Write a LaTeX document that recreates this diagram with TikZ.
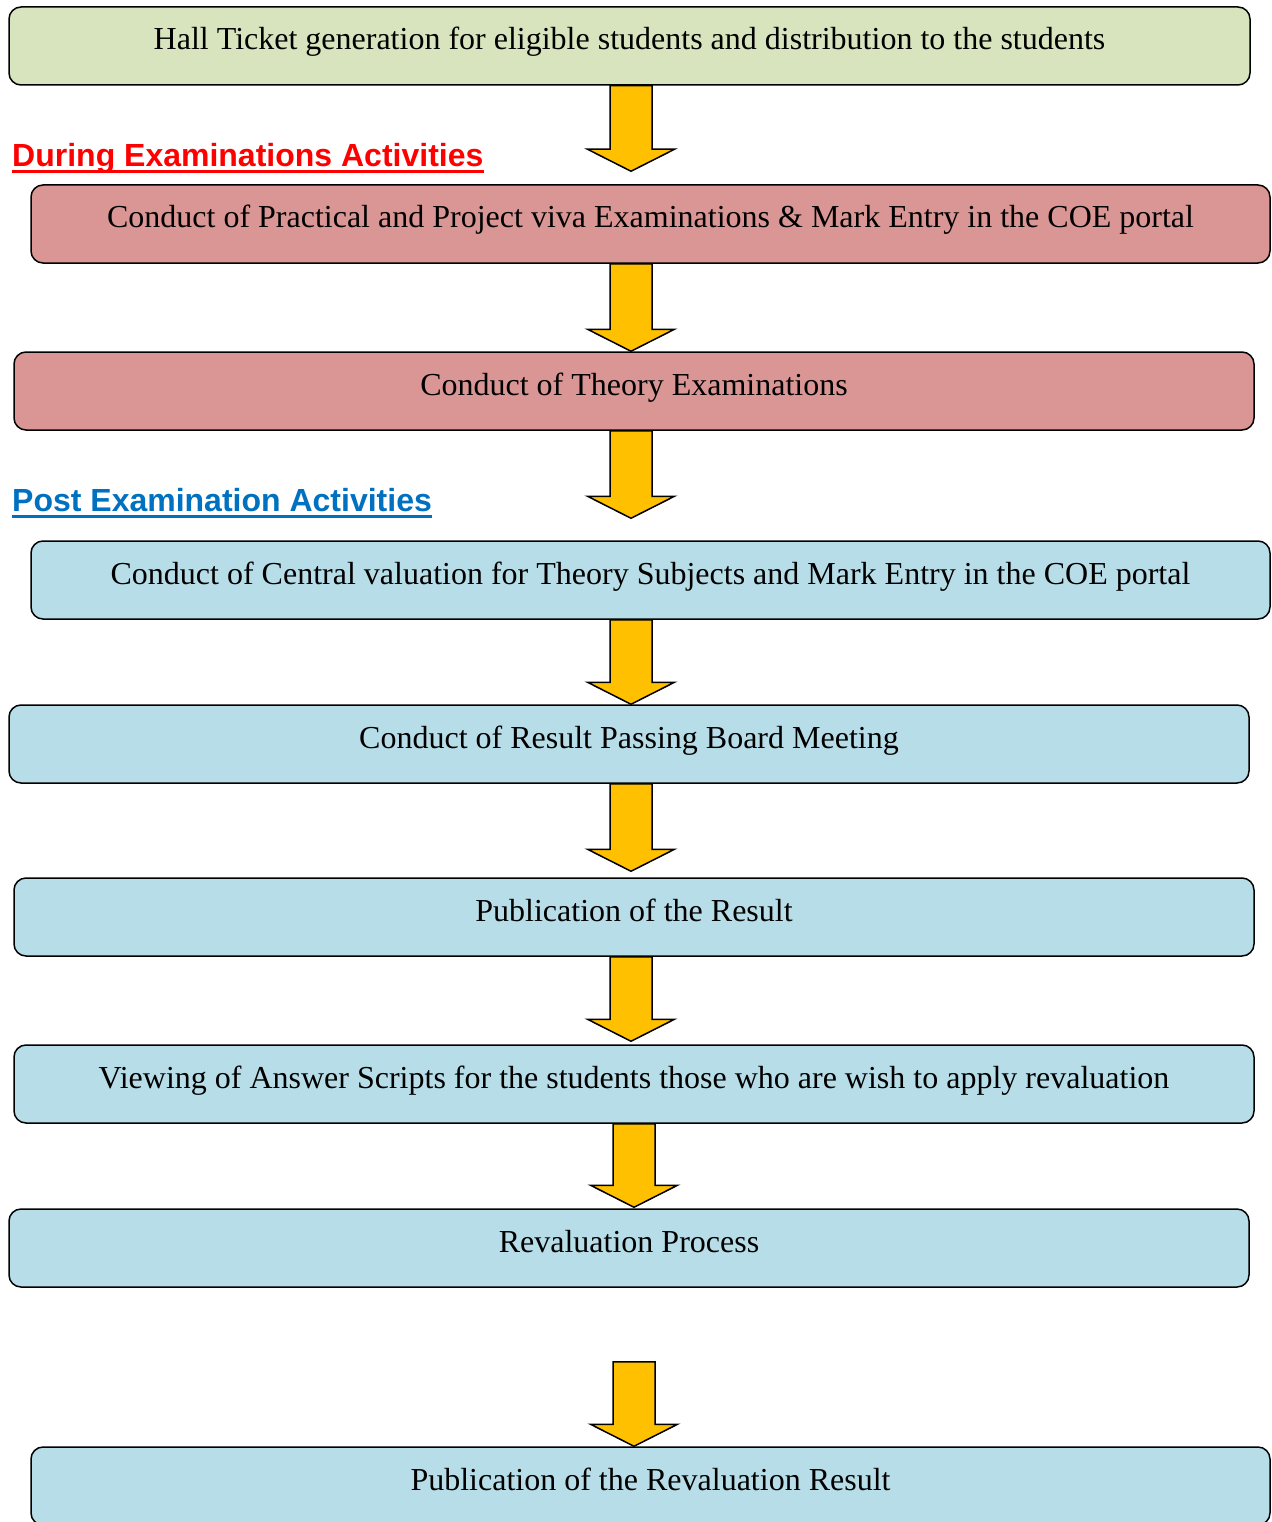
\documentclass[tikz,border=0pt]{standalone}
\usepackage{fontspec}
\setmainfont{Liberation Serif}
\newfontfamily\headfont{Liberation Sans}
\usetikzlibrary{calc}
\definecolor{hallgreen}{HTML}{D7E4BD}
\definecolor{duringred}{HTML}{D99694}
\definecolor{postblue}{HTML}{B7DEE8}
\definecolor{arrowgold}{HTML}{FFC000}
\definecolor{headblue}{HTML}{0070C0}
% #1 upper box, #2 lower box, #3 x of the arrow, #4 gap below #1, #5 gap above #2
\newcommand{\flowarrow}[5]{%
  \path[bigarrow] let \p1=(#1.south), \p2=(#2.north) in
    ({#3pt-21pt},{\y1-#4pt}) -- ({#3pt+21pt},{\y1-#4pt}) -- ({#3pt+21pt},{\y2+#5pt+22pt})
    -- ({#3pt+43.5pt},{\y2+#5pt+22pt}) -- ({#3pt},{\y2+#5pt}) -- ({#3pt-43.5pt},{\y2+#5pt+22pt})
    -- ({#3pt-21pt},{\y2+#5pt+22pt}) -- cycle;}
\begin{document}
\begin{tikzpicture}[x=1pt,y=1pt]
        \tikzstyle{stage}=[rectangle,rounded corners=12pt,draw=black,line width=1.5pt,inner sep=0pt,minimum height=78pt,font=\fontsize{32}{34}\selectfont,text height=21pt,text depth=13pt]
        \tikzstyle{hall}=[stage,fill=hallgreen]
        \tikzstyle{during}=[stage,fill=duringred]
        \tikzstyle{post}=[stage,fill=postblue]
        \tikzstyle{bigarrow}=[fill=arrowgold,draw=black,line width=1.5pt,line join=miter]
        \tikzstyle{heading}=[anchor=base west,inner sep=0pt,font=\headfont\bfseries\fontsize{32}{34}\selectfont]
        \useasboundingbox (0,0) rectangle (1271,-1522);
        % boxes
        \node [hall,minimum width=1241pt] (b1) at (629.5,-46) {Hall Ticket generation for eligible students and distribution to the students};
        \node [during,minimum width=1239pt] (b2) at (650.5,-224) {Conduct of Practical and Project viva Examinations \& Mark Entry in the COE portal};
        \node [during,minimum width=1240pt] (b3) at (634,-391) {Conduct of Theory Examinations};
        \node [post,minimum width=1239pt] (b4) at (650.5,-580) {Conduct of Central valuation for Theory Subjects and Mark Entry in the COE portal};
        \node [post,minimum width=1240pt] (b5) at (629,-744) {Conduct of Result Passing Board Meeting};
        \node [post,minimum width=1240pt] (b6) at (634,-917) {Publication of the Result};
        \node [post,minimum width=1240pt] (b7) at (634,-1084) {Viewing of Answer Scripts for the students those who are wish to apply revaluation};
        \node [post,minimum width=1240pt] (b8) at (629,-1248) {Revaluation Process};
        \node [post,minimum width=1239pt] (b9) at (650.5,-1486) {Publication of the Revaluation Result};
        % headings
        \node [heading,text=red] (during) at (12,-167) {During Examinations Activities};
        \draw [red,line width=3pt] ($(during.base west)+(0,-5)$) -- ($(during.base east)+(0,-5)$);
        \node [heading,text=headblue] (post) at (12,-511) {Post Examination Activities};
        \draw [headblue,line width=3pt] ($(post.base west)+(0,-5)$) -- ($(post.base east)+(0,-5)$);
        % arrows
        \flowarrow{b1}{b2}{631}{0}{13}
        \flowarrow{b2}{b3}{631}{0}{0}
        \flowarrow{b3}{b4}{631}{0}{22}
        \flowarrow{b4}{b5}{631}{0}{0}
        \flowarrow{b5}{b6}{631}{0}{6}
        \flowarrow{b6}{b7}{631}{0}{3}
        \flowarrow{b7}{b8}{634}{0}{1}
        \flowarrow{b8}{b9}{634}{74}{0}
\end{tikzpicture}
\end{document}
